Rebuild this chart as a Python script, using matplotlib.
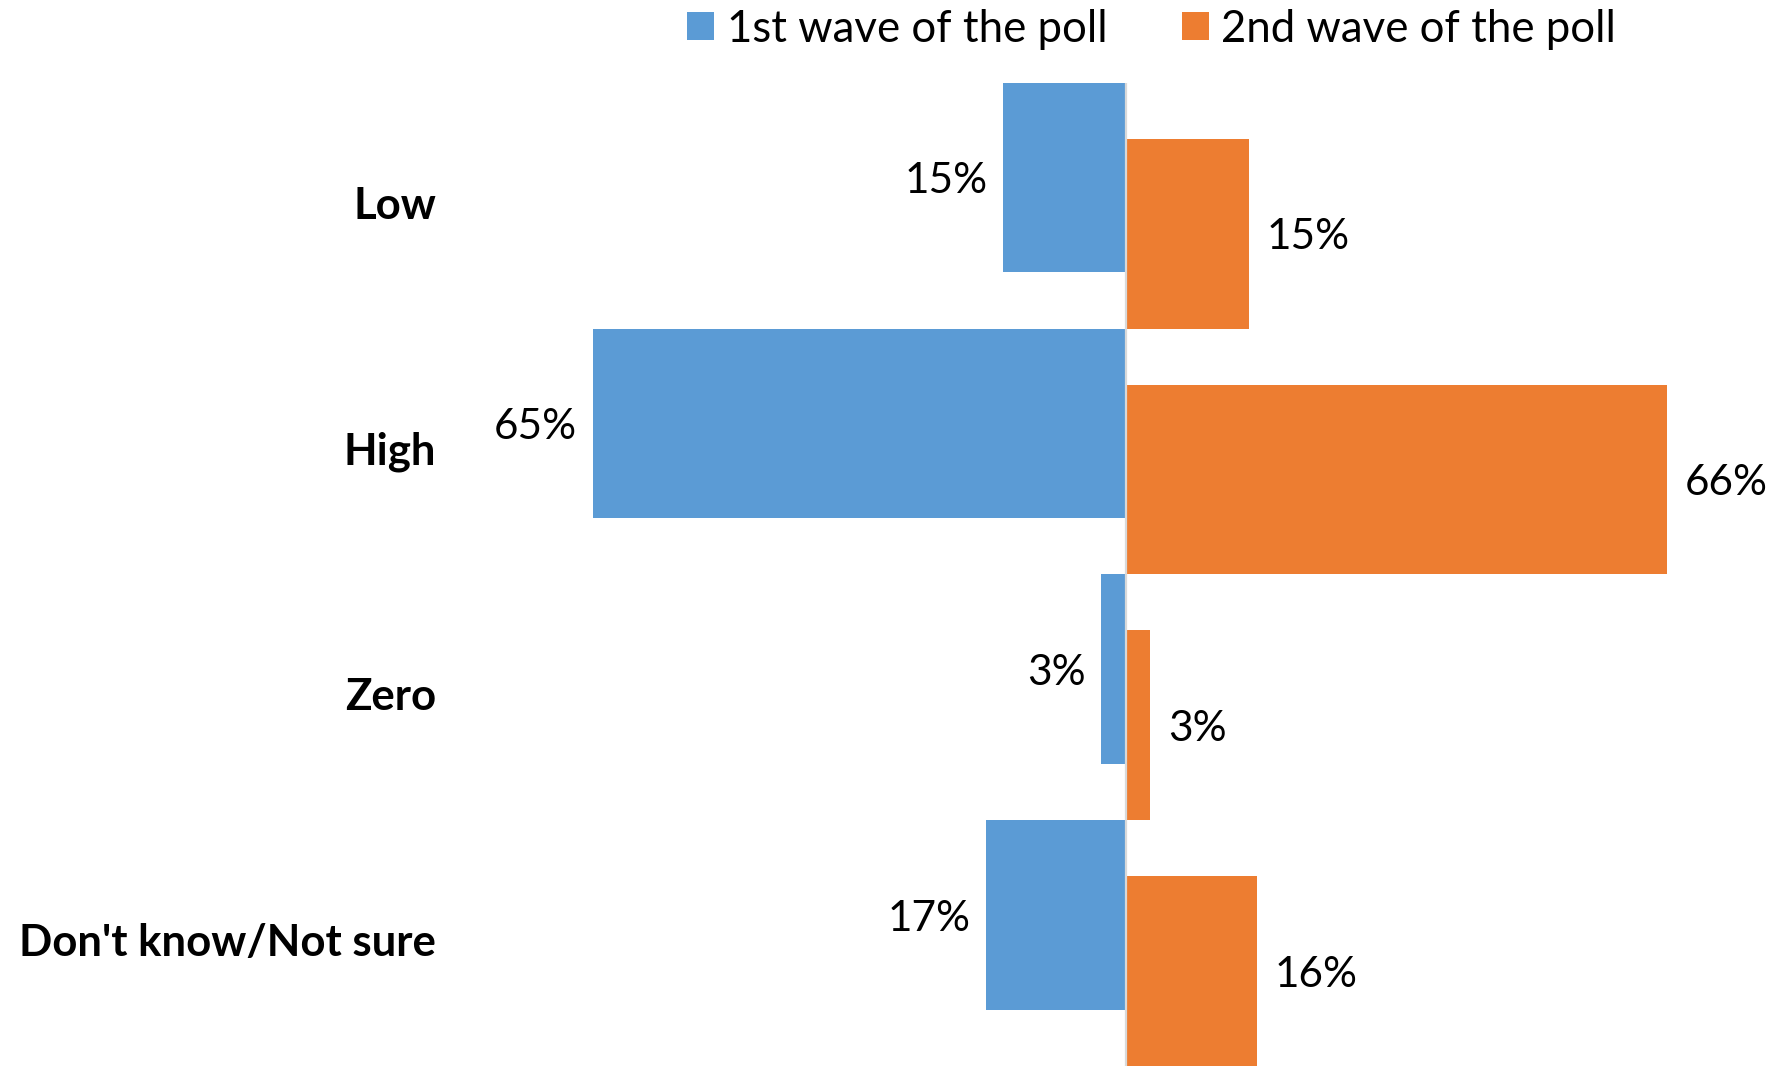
import matplotlib
matplotlib.use("Agg")
import matplotlib.pyplot as plt
from matplotlib.patches import Patch
import numpy as np

plt.rcParams["font.family"] = ["Lato", "DejaVu Sans"]

# --- DATA ---
categories = ["Low", "High", "Zero", "Don't know/Not sure"]
wave1 = [15, 65, 3, 17]
wave2 = [15, 66, 3, 16]
series_names = ["1st wave of the poll", "2nd wave of the poll"]

BLUE = "#5B9BD5"
ORANGE = "#ED7D31"

W, H, DPI = 1772, 1066, 100
fig = plt.figure(figsize=(W / DPI, H / DPI), dpi=DPI)
fig.patch.set_facecolor("white")

# plot area: zero line at x=1125.6px, ~8.2 px per percent
px_per_pct = 8.2
x0, x1 = 440, 1772
y_top, y_bot = 82.7, 1066
ax = fig.add_axes([x0 / W, 1 - y_bot / H, (x1 - x0) / W, (y_bot - y_top) / H])
ax.set_xlim((x0 - 1125.6) / px_per_pct, (x1 - 1125.6) / px_per_pct)
ax.set_ylim(len(categories) - 0.5, -0.5)

y = np.arange(len(categories))
h = 0.772
off = 0.5 - h / 2

b1 = ax.barh(y - off, [-v for v in wave1], height=h, color=BLUE, linewidth=0)
b2 = ax.barh(y + off, wave2, height=h, color=ORANGE, linewidth=0)

lab1 = ax.bar_label(b1, labels=[f"{v}%" for v in wave1], padding=11, fontsize=30.5)
lab2 = ax.bar_label(b2, labels=[f"{v}%" for v in wave2], padding=13, fontsize=30.5)
# nudge value labels down a touch
for t in lab1 + lab2:
    dx, dy = t.xyann
    t.xyann = (dx, dy - 2.5)

ax.axvline(0, color="#d9d9d9", linewidth=1.6, zorder=3)

for i, cat in enumerate(categories):
    ax.text((436 - x0) / (x1 - x0), 1 - (i + 0.5) / len(categories), cat,
            transform=ax.transAxes, ha="right", va="center",
            fontsize=31.5, fontweight="bold")

ax.axis("off")

handles = [Patch(facecolor=BLUE), Patch(facecolor=ORANGE)]
fig.legend(handles, series_names, loc="center", bbox_to_anchor=(1151.5 / W, 1 - 29 / H),
           ncol=2, frameon=False, fontsize=31.5, handlelength=0.62, handleheight=0.62,
           handletextpad=0.28, columnspacing=1.7, borderpad=0, borderaxespad=0)

fig.savefig("out.png", dpi=DPI, facecolor="white")
